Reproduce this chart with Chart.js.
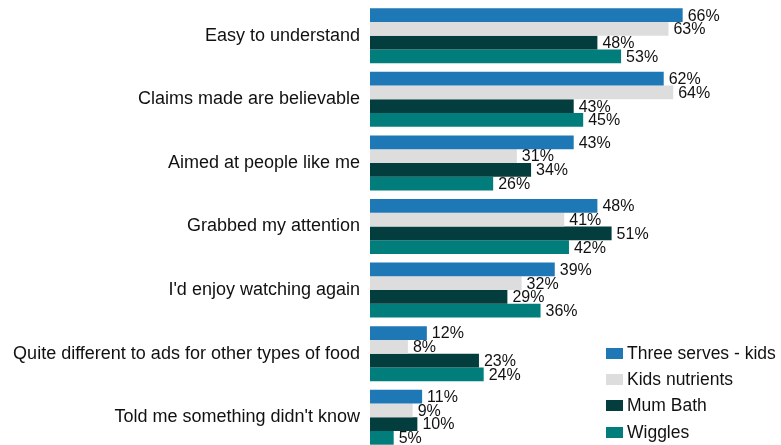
<!DOCTYPE html>
<html>
<head>
<meta charset="utf-8">
<script src="https://cdn.jsdelivr.net/npm/chart.js@4"></script>
<style>
  html, body { margin: 0; padding: 0; background: #fff; overflow: hidden; }
  #wrap { position: relative; width: 781px; height: 452px; }
  #legend { position: absolute; left: 606px; top: 340px; font-family: "Liberation Sans", Arial, sans-serif; font-size: 17.5px; color: #111; }
  #legend div { height: 26.3px; display: flex; align-items: center; }
  #legend span.box { display: inline-block; width: 17px; height: 11px; margin-right: 4px; }
</style>
</head>
<body>
<div id="wrap">
  <canvas id="adChart" width="781" height="452"></canvas>
  <div id="legend"></div>
</div>
<script>
const categories = [
  'Easy to understand',
  'Claims made are believable',
  'Aimed at people like me',
  'Grabbed my attention',
  "I'd enjoy watching again",
  'Quite different to ads for other types of food',
  "Told me something didn't know"
];

const seriesNames = ['Three serves - kids', 'Kids nutrients', 'Mum Bath', 'Wiggles'];

const threeServes = [66, 62, 43, 48, 39, 12, 11];
const kidsNutrients = [63, 64, 31, 41, 32, 8, 9];
const mumBath = [48, 43, 34, 51, 29, 23, 10];
const wiggles = [53, 45, 26, 42, 36, 24, 5];

const colors = ['#1f78b6', '#dddddd', '#043d3d', '#017e7c'];

const font = '"Liberation Sans", Arial, sans-serif';

// writes the percentage just past the end of each bar
const valueLabels = {
  id: 'valueLabels',
  afterDatasetsDraw(chart) {
    const ctx = chart.ctx;
    ctx.save();
    ctx.font = '16px ' + font;
    ctx.fillStyle = '#111';
    ctx.textBaseline = 'middle';
    ctx.textAlign = 'left';
    chart.data.datasets.forEach((ds, i) => {
      chart.getDatasetMeta(i).data.forEach((bar, j) => {
        ctx.fillText(ds.data[j] + '%', bar.x + 5, bar.y + 1);
      });
    });
    ctx.restore();
  }
};

const ctx = document.getElementById('adChart').getContext('2d');

const chart = new Chart(ctx, {
  type: 'bar',
  data: {
    labels: categories,
    datasets: [threeServes, kidsNutrients, mumBath, wiggles].map((values, i) => ({
      label: seriesNames[i],
      data: values,
      backgroundColor: colors[i],
      barPercentage: 1,
      categoryPercentage: 0.865
    }))
  },
  options: {
    indexAxis: 'y',
    responsive: false,
    animation: false,
    layout: { padding: { top: 4, bottom: 3, right: 32, left: 0 } },
    plugins: {
      legend: { display: false },
      tooltip: { enabled: false }
    },
    scales: {
      x: {
        min: 0,
        max: 80,
        display: false
      },
      y: {
        grid: { display: false, drawTicks: false },
        border: { display: false },
        ticks: {
          color: '#111',
          padding: 10,
          font: { family: font, size: 18 }
        },
        // fixed label column, and no extra room above/below for the first and last label
        afterFit(scale) {
          scale.width = 370;
          scale.paddingTop = 0;
          scale.paddingBottom = 0;
        }
      }
    }
  },
  plugins: [valueLabels]
});

// legend in the lower right, over the empty part of the plot
const legend = document.getElementById('legend');
seriesNames.forEach((name, i) => {
  const row = document.createElement('div');
  const box = document.createElement('span');
  box.className = 'box';
  box.style.background = colors[i];
  row.appendChild(box);
  row.appendChild(document.createTextNode(name));
  legend.appendChild(row);
});
</script>
</body>
</html>
